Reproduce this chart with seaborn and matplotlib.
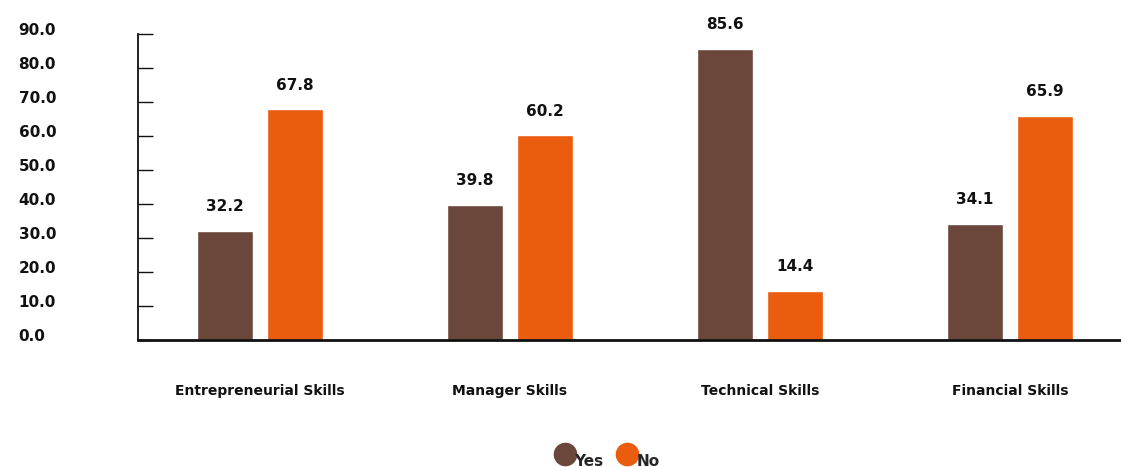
import matplotlib
matplotlib.use("Agg")
import matplotlib.pyplot as plt
from matplotlib.lines import Line2D
from matplotlib.transforms import ScaledTranslation
import seaborn as sns
import pandas as pd

categories = ["Entrepreneurial Skills", "Manager Skills", "Technical Skills", "Financial Skills"]
yes_values = [32.2, 39.8, 85.6, 34.1]
no_values = [67.8, 60.2, 14.4, 65.9]
series_names = ["Yes", "No"]
series_colors = ["#6A473A", "#EA5C0E"]
y_ticks = [0, 10, 20, 30, 40, 50, 60, 70, 80, 90]

df = pd.DataFrame({
    "category": categories * 2,
    "answer": [series_names[0]] * len(categories) + [series_names[1]] * len(categories),
    "value": yes_values + no_values,
})

sns.set_style("white")
plt.rcParams["font.family"] = ["DejaVu Sans"]
plt.rcParams["font.weight"] = "bold"

fig = plt.figure(figsize=(11.21, 4.67), dpi=100)
ax = fig.add_axes([138 / 1121, (467 - 340) / 467, 1 - 138 / 1121, (340 - 34) / 467])

sns.barplot(data=df, x="category", y="value", hue="answer",
            order=categories, hue_order=series_names,
            palette=series_colors, width=0.56, gap=0.19,
            saturation=1, legend=False, ax=ax, errorbar=None)

for cont in ax.containers:
    ax.bar_label(cont, fmt="%.1f", padding=12, fontsize=11, fontweight="bold",
                 color="#111111")

ax.set_ylim(0, 90)
ax.set_xlim(-0.488, 3.444)
ax.set_yticks(y_ticks)
ax.set_yticklabels([f"{v:.1f}" for v in y_ticks], ha="left", fontsize=11,
                   fontweight="bold", color="#111111")
ax.tick_params(axis="y", direction="in", length=11, width=1, color="#111111",
               pad=86, left=True)
for lab in ax.get_yticklabels():
    lab.set_transform(lab.get_transform() + ScaledTranslation(0, 5 / 100, fig.dpi_scale_trans))

ax.tick_params(axis="x", length=0, pad=32)
for lab in ax.get_xticklabels():
    lab.set_fontsize(10)
    lab.set_fontweight("bold")
    lab.set_color("#111111")

ax.set_xlabel("")
ax.set_ylabel("")
for side in ["top", "right"]:
    ax.spines[side].set_visible(False)
ax.spines["left"].set_color("#111111")
ax.spines["left"].set_linewidth(1.3)
ax.spines["bottom"].set_color("#111111")
ax.spines["bottom"].set_linewidth(2)

handles = [Line2D([0], [0], marker="o", linestyle="", markersize=16,
                  markerfacecolor=c, markeredgecolor=c) for c in series_colors]
leg = fig.legend(handles, series_names, loc="lower center", ncol=2,
                 bbox_to_anchor=(0.542, -0.02), frameon=False,
                 handletextpad=0.05, columnspacing=0.9, fontsize=11,
                 handlelength=1.2)
for t in leg.get_texts():
    t.set_fontweight("bold")
    t.set_transform(t.get_transform() + ScaledTranslation(0, -6 / 100, fig.dpi_scale_trans))

fig.savefig("out.png", dpi=100)
